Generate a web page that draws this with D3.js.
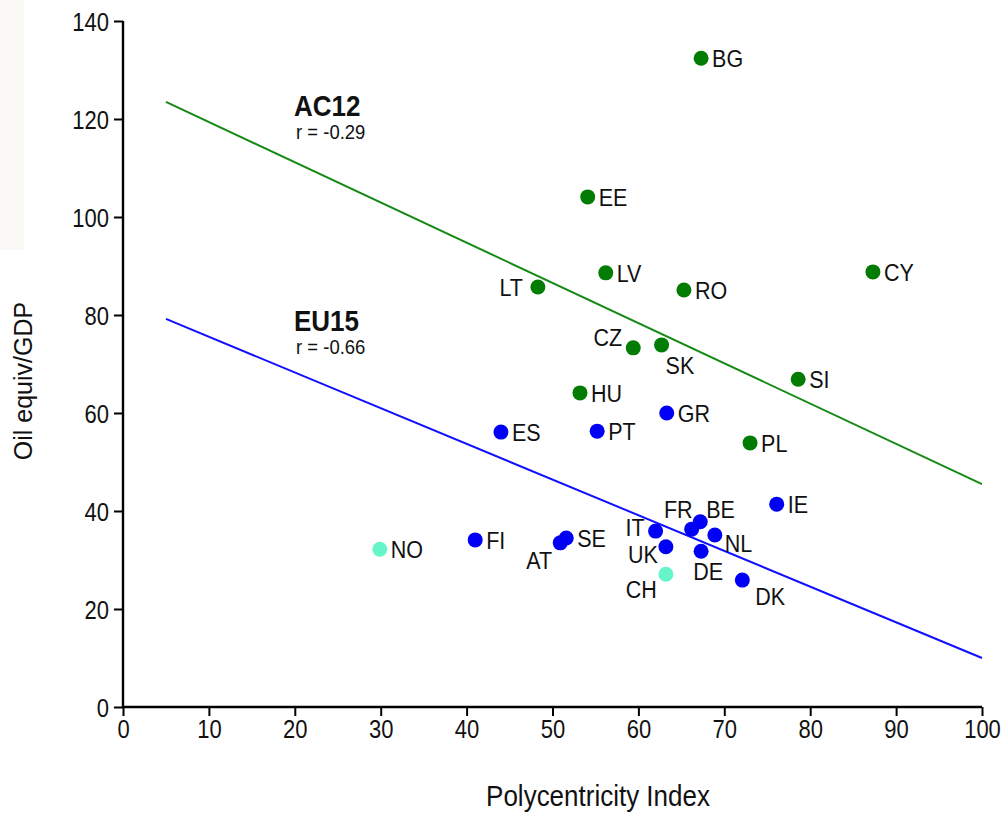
<!DOCTYPE html>
<html>
<head>
<meta charset="utf-8">
<script src="https://cdn.jsdelivr.net/npm/d3@7"></script>
<style>
	body { margin: 0; background: #fff; }
	text { font-family: Arial, "Liberation Sans", sans-serif; fill: #111; }
</style>
</head>
<body>
<div id="chart"></div>
<script>
const w = 1007;
const h = 814;
const stretchY = 1.14; // the original text is a bit taller than wide

// country codes, polycentricity index, oil equiv / GDP, group
const countries = ["BG","EE","LV","LT","RO","CY","CZ","SK","SI","HU","PL",
	"GR","ES","PT","IE","FR","BE","NL","IT","UK","DE","DK","FI","SE","AT",
	"CH","NO"];
const polyIndex = [67.3,54.1,56.2,48.3,65.3,87.3,59.4,62.7,78.6,53.2,73.0,
	63.3,44.0,55.2,76.1,66.2,67.2,68.9,62.0,63.2,67.3,72.1,41.0,51.6,50.9,
	63.2,29.9];
const oilGdp = [132.4,104.1,88.6,85.7,85.1,88.8,73.3,73.9,66.9,64.1,53.9,
	60.0,56.1,56.3,41.4,36.3,37.8,35.1,35.9,32.7,31.8,25.9,34.1,34.5,33.5,
	27.1,32.2];
const groups = ["AC12","AC12","AC12","AC12","AC12","AC12","AC12","AC12","AC12","AC12","AC12",
	"EU15","EU15","EU15","EU15","EU15","EU15","EU15","EU15","EU15","EU15","EU15","EU15","EU15","EU15",
	"EFTA","EFTA"];

// regression lines
const fitX = [5, 100];
const fitAC12 = [123.5, 45.5];
const fitEU15 = [79.2, 10.0];

const xTicks = [0,10,20,30,40,50,60,70,80,90,100];
const yTicks = [0,20,40,60,80,100,120,140];

const colors = {AC12: "#037c03", EU15: "#0000f5", EFTA: "#66f5c8"};
const lineColors = {AC12: "#158a15", EU15: "#1010ff"};

// label placement: [dx, dy, anchor]
const labelPos = {
	LT: [-15, 0, "end"], CZ: [-11, -11, "end"], SK: [4, 20, "start"],
	FR: [1, -20, "end"], BE: [6, -13, "start"], IT: [-11, -4, "end"],
	NL: [10, 8, "start"], UK: [-8, 7, "end"], DE: [7, 20, "middle"],
	DK: [13, 16, "start"], CH: [-9, 15, "end"], AT: [-8, 17, "end"]
};

let dataset = countries.map((c, i) => ({
	code: c, x: polyIndex[i], y: oilGdp[i], group: groups[i]
}));

let svg = d3.select('#chart')
	.append('svg')
		.attr('width', w)
		.attr('height', h);

// move x/y into a transform so the glyphs can be stretched vertically
function stretch(sel) {
	sel.each(function() {
		const t = d3.select(this);
		const x = +t.attr("x") || 0;
		const y = +t.attr("y") || 0;
		const prev = t.attr("transform") || "";
		t.attr("x", null).attr("y", null)
			.attr("transform", prev + " translate(" + x + "," + y + ") scale(1," + stretchY + ")");
	});
}

// faint panel top-left
svg.append("rect")
	.attr("x", 0).attr("y", 0)
	.attr("width", 24).attr("height", 250)
	.attr("fill", "#fbf9f6");

let xScale = d3.scaleLinear().domain([0, 100]).range([123, 982]);
let yScale = d3.scaleLinear().domain([0, 140]).range([707, 21]);

// regression lines
const fits = [["AC12", fitAC12], ["EU15", fitEU15]];
fits.forEach(([g, ys]) => {
	svg.append("line")
		.attr("x1", xScale(fitX[0]))
		.attr("y1", yScale(ys[0]))
		.attr("x2", xScale(fitX[1]))
		.attr("y2", yScale(ys[1]))
		.attr("stroke", lineColors[g])
		.attr("stroke-width", 2);
});

// axes
let xAxis = svg.append("g")
	.attr("transform", "translate(0," + yScale(0) + ")")
	.call(d3.axisBottom(xScale).tickValues(xTicks).tickSize(9).tickPadding(4));
let yAxis = svg.append("g")
	.attr("transform", "translate(" + xScale(0) + ",0)")
	.call(d3.axisLeft(yScale).tickValues(yTicks).tickSize(9).tickPadding(5));

[xAxis, yAxis].forEach((a) => {
	a.select(".domain").attr("stroke", "#000").attr("stroke-width", 2.4);
	a.selectAll(".tick line").attr("stroke", "#000").attr("stroke-width", 2);
	a.selectAll(".tick text")
		.attr("font-size", 22)
		.style("font-family", "Arial, 'Liberation Sans', sans-serif")
		.attr("fill", "#111")
		.call(stretch);
});
yAxis.select(".domain").attr("d", "M0," + yScale(140) + "V" + yScale(0));
xAxis.select(".domain").attr("d", "M" + xScale(0) + ",0H" + xScale(100));
yAxis.selectAll(".tick text").attr("dy", "0.36em");

// axis titles
svg.append("text")
	.attr("x", 598).attr("y", 806)
	.attr("text-anchor", "middle")
	.attr("font-size", 26)
	.text("Polycentricity Index")
	.call(stretch);

svg.append("text")
	.attr("transform", "translate(32,381) rotate(-90)")
	.attr("text-anchor", "middle")
	.attr("font-size", 25)
	.text("Oil equiv/GDP");

// group annotations
const notes = [["AC12", "r = -0.29", 116], ["EU15", "r = -0.66", 331]];
notes.forEach(([g, r, yb]) => {
	svg.append("text")
		.attr("x", 294).attr("y", yb)
		.attr("font-size", 26)
		.attr("font-weight", "bold")
		.text(g)
		.call(stretch);
	svg.append("text")
		.attr("x", 296).attr("y", yb + 23)
		.attr("font-size", 18.5)
		.text(r)
		.call(stretch);
});

// points
svg.selectAll("circle")
	.data(dataset)
	.enter()
	.append("circle")
	.attr("cx", (d) => xScale(d.x))
	.attr("cy", (d) => yScale(d.y))
	.attr("r", 7.5)
	.attr("fill", (d) => colors[d.group]);

// labels
svg.selectAll("text.lbl")
	.data(dataset)
	.enter()
	.append("text")
	.attr("class", "lbl")
	.attr("x", (d) => xScale(d.x) + (labelPos[d.code] ? labelPos[d.code][0] : 11))
	.attr("y", (d) => yScale(d.y) + (labelPos[d.code] ? labelPos[d.code][1] : 0))
	.attr("dy", "0.36em")
	.attr("text-anchor", (d) => labelPos[d.code] ? labelPos[d.code][2] : "start")
	.attr("font-size", 21.5)
	.text((d) => d.code)
	.call(stretch);
</script>
</body>
</html>
